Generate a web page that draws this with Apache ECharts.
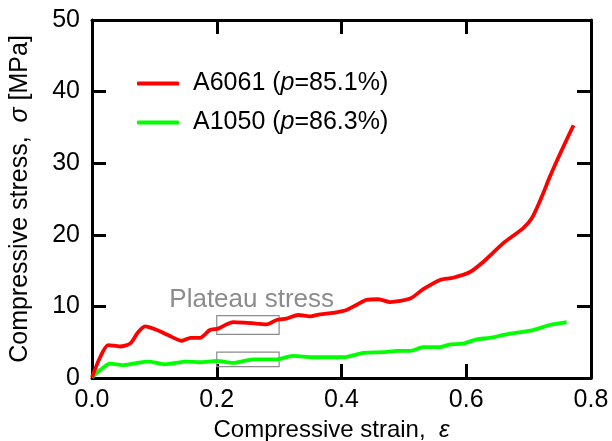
<!DOCTYPE html>
<html>
<head>
<meta charset="utf-8">
<script src="https://cdn.jsdelivr.net/npm/echarts@6/dist/echarts.min.js"></script>
<style>html,body{margin:0;padding:0;background:#fff}#c{width:612px;height:441px}</style>
</head>
<body>
<div id="c"></div>
<script>
// ---- data ----
const seriesNames = ['A6061 (p=85.1%)', 'A1050 (p=86.3%)'];

const strainA6061 = [0, 0.013, 0.026, 0.045, 0.061, 0.074, 0.085, 0.104, 0.122, 0.144, 0.158, 0.173, 0.189, 0.202, 0.216, 0.226, 0.248, 0.264, 0.28, 0.296, 0.312, 0.331, 0.349, 0.366, 0.387, 0.408, 0.424, 0.44, 0.459, 0.478, 0.51, 0.531, 0.558, 0.579, 0.606, 0.627, 0.659, 0.691, 0.705, 0.721, 0.734, 0.753, 0.772];
const stressA6061 = [0.1, 2.9, 4.6, 4.4, 4.8, 6.4, 7.2, 6.7, 6.0, 5.2, 5.6, 5.6, 6.7, 6.9, 7.5, 7.8, 7.7, 7.6, 7.5, 8.1, 8.3, 8.8, 8.6, 8.9, 9.1, 9.5, 10.2, 10.9, 11.0, 10.6, 11.1, 12.4, 13.7, 14.0, 14.8, 16.2, 18.8, 20.9, 22.3, 25.3, 28.1, 31.8, 35.3];

const strainA1050 = [0, 0.013, 0.029, 0.05, 0.066, 0.09, 0.117, 0.152, 0.173, 0.2, 0.226, 0.259, 0.296, 0.322, 0.355, 0.403, 0.435, 0.467, 0.489, 0.511, 0.531, 0.558, 0.574, 0.595, 0.617, 0.638, 0.664, 0.707, 0.734, 0.761];
const stressA1050 = [0.1, 1.1, 2.0, 1.8, 2.0, 2.3, 1.9, 2.3, 2.2, 2.4, 2.1, 2.6, 2.6, 3.1, 2.9, 2.9, 3.5, 3.6, 3.8, 3.8, 4.3, 4.3, 4.7, 4.8, 5.4, 5.6, 6.1, 6.7, 7.4, 7.8];

// plateau boxes: [strainFrom, stressTop, strainTo, stressBottom]
const plateauBoxA6061 = [0.2, 8.7, 0.3, 6.1];
const plateauBoxA1050 = [0.2, 3.6, 0.3, 1.6];
const plateauLabel = 'Plateau stress';
const plateauLabelAt = [0.256, 10.9];

const xTicks = [0, 0.2, 0.4, 0.6, 0.8];
const yTicks = [0, 10, 20, 30, 40, 50];

// ---- chart ----
const FONT = 'Liberation Sans, Arial, sans-serif';
const pairs = (xs, ys) => xs.map((x, i) => [x, ys[i]]);
const box = b => [[{ coord: [b[0], b[1]] }, { coord: [b[2], b[3]] }]];

const mkLine = () => ({ show: true, onZero: false, lineStyle: { color: '#000', width: 3 } });
const mkTick = () => ({ show: true, inside: true, length: 14, lineStyle: { color: '#000', width: 3 } });

const chart = echarts.init(document.getElementById('c'), null, { renderer: 'canvas' });
chart.setOption({
  animation: false,
  backgroundColor: '#fff',
  grid: { left: 92, right: 21, top: 20, bottom: 63, containLabel: false, outerBoundsMode: 'none' },
  legend: {
    orient: 'vertical',
    left: 132,
    top: 66,
    itemWidth: 42,
    itemHeight: 4,
    itemGap: 14,
    icon: 'roundRect',
    data: seriesNames,
    formatter: n => {
      const m = n.match(/^(.*\()p(=.*)$/);
      return '{n|' + m[1] + '}{i|p}{n|' + m[2] + '}';
    },
    textStyle: {
      padding: [0, 0, 0, 9],
      rich: {
        n: { fontFamily: FONT, fontSize: 25, color: '#000' },
        i: { fontFamily: FONT, fontSize: 25, fontStyle: 'italic', color: '#000' }
      }
    }
  },
  xAxis: [{
    type: 'value', min: xTicks[0], max: xTicks[xTicks.length - 1], interval: 0.2,
    position: 'bottom',
    axisLine: mkLine(), axisTick: mkTick(), splitLine: { show: false },
    axisLabel: { fontFamily: FONT, fontSize: 25, color: '#000', margin: 10, formatter: v => v.toFixed(1) },
    name: '{n|Compressive strain,  }{i|ε}',
    nameLocation: 'middle', nameGap: 39,
    nameTextStyle: {
      padding: [0, 20, 0, 0],
      rich: {
        n: { fontFamily: FONT, fontSize: 24, color: '#000' },
        i: { fontFamily: FONT, fontSize: 24, fontStyle: 'italic', color: '#000' }
      }
    }
  }, {
    type: 'value', min: xTicks[0], max: xTicks[xTicks.length - 1], interval: 0.2,
    position: 'top',
    axisLine: mkLine(), axisTick: mkTick(), splitLine: { show: false }, axisLabel: { show: false }
  }],
  yAxis: [{
    type: 'value', min: yTicks[0], max: yTicks[yTicks.length - 1], interval: 10,
    position: 'left',
    axisLine: mkLine(), axisTick: mkTick(), splitLine: { show: false },
    axisLabel: { fontFamily: FONT, fontSize: 25, color: '#000', margin: 12 },
    name: '{n|Compressive stress,  }{i|σ}{n| [MPa]}',
    nameLocation: 'middle', nameGap: 59,
    nameTextStyle: {
      rich: {
        n: { fontFamily: FONT, fontSize: 25, color: '#000' },
        i: { fontFamily: FONT, fontSize: 25, fontStyle: 'italic', color: '#000' }
      }
    }
  }, {
    type: 'value', min: yTicks[0], max: yTicks[yTicks.length - 1], interval: 10,
    position: 'right',
    axisLine: mkLine(), axisTick: mkTick(), splitLine: { show: false }, axisLabel: { show: false }
  }],
  series: [{
    name: seriesNames[0],
    type: 'line',
    data: pairs(strainA6061, stressA6061),
    showSymbol: false,
    smooth: 0.25,
    lineStyle: { color: '#ff0000', width: 3.8 },
    itemStyle: { color: '#ff0000' },
    z: 3,
    markArea: {
      silent: true,
      itemStyle: { color: 'rgba(0,0,0,0)', borderColor: '#8c8c8c', borderWidth: 1.2 },
      data: box(plateauBoxA6061)
    },
    markPoint: {
      silent: true,
      symbol: 'circle',
      symbolSize: 0,
      data: [{ coord: plateauLabelAt, value: plateauLabel }],
      label: { show: true, position: 'inside', formatter: plateauLabel, fontFamily: FONT, fontSize: 26, color: '#8c8c8c' }
    }
  }, {
    name: seriesNames[1],
    type: 'line',
    data: pairs(strainA1050, stressA1050),
    showSymbol: false,
    smooth: 0.25,
    lineStyle: { color: '#00ff00', width: 3.8 },
    itemStyle: { color: '#00ff00' },
    z: 2,
    markArea: {
      silent: true,
      itemStyle: { color: 'rgba(0,0,0,0)', borderColor: '#8c8c8c', borderWidth: 1.2 },
      data: box(plateauBoxA1050)
    }
  }]
});
</script>
</body>
</html>
